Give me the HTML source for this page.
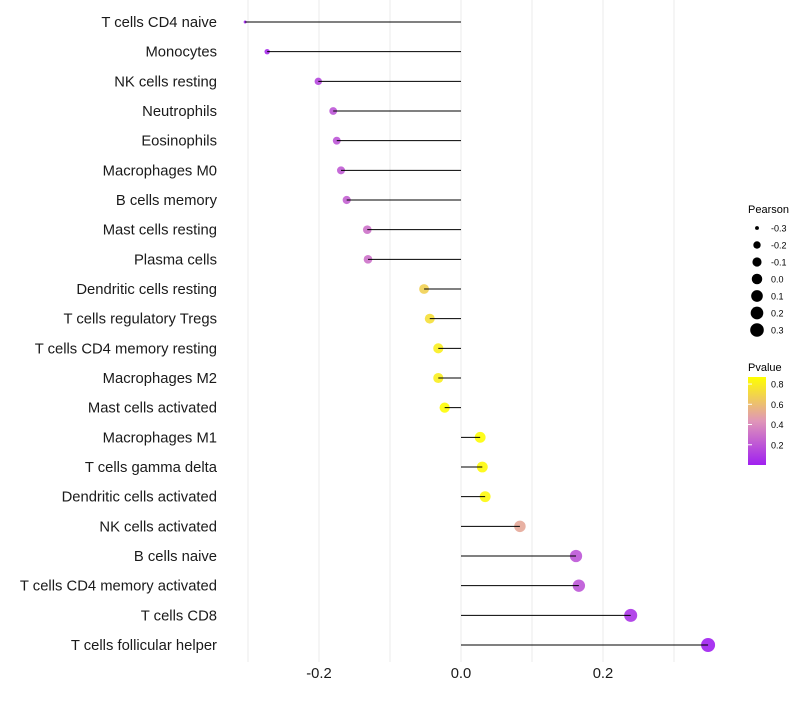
<!DOCTYPE html>
<html><head><meta charset="utf-8"><style>
body{margin:0;background:#fff;}
svg text{font-family:"Liberation Sans",sans-serif;}
</style></head><body>
<svg id="chart" width="800" height="700" viewBox="0 0 800 700">
<defs>
<linearGradient id="pg" x1="0" y1="1" x2="0" y2="0">
<stop offset="0" stop-color="#a020f0"/><stop offset="0.5" stop-color="#e096b8"/><stop offset="1" stop-color="#ffff00"/>
</linearGradient>
</defs>
<g id="grid"></g>
<g id="marks"></g>
<g id="ylab"></g>
<g id="xlab"></g>
<g id="lp">
<text x="748" y="213" font-size="11">Pearson</text>
</g>
<g>
<text x="748" y="371" font-size="11">Pvalue</text>
<rect x="748" y="377" width="18" height="88" fill="url(#pg)"/>
<g id="pvt"></g>
</g>
</svg>
<script>
const categories=["T cells CD4 naive","Monocytes","NK cells resting","Neutrophils","Eosinophils","Macrophages M0","B cells memory","Mast cells resting","Plasma cells","Dendritic cells resting","T cells regulatory  Tregs ","T cells CD4 memory resting","Macrophages M2","Mast cells activated","Macrophages M1","T cells gamma delta","Dendritic cells activated","NK cells activated","B cells naive","T cells CD4 memory activated","T cells CD8","T cells follicular helper"];
const pearson=[-0.304,-0.273,-0.201,-0.180,-0.175,-0.169,-0.161,-0.132,-0.131,-0.052,-0.044,-0.032,-0.032,-0.023,0.027,0.030,0.034,0.083,0.162,0.166,0.239,0.348];
const pvalue=[0.02,0.05,0.15,0.2,0.2,0.22,0.24,0.3,0.3,0.66,0.72,0.78,0.78,0.84,0.84,0.83,0.82,0.5,0.2,0.2,0.08,0.01];
const xTicks=[-0.2,0,0.2];
const xTickLabels=["-0.2","0.0","0.2"];
const sizeLegend=[-0.3,-0.2,-0.1,0,0.1,0.2,0.3];
const pTicks=[0.2,0.4,0.6,0.8];
const NS="http://www.w3.org/2000/svg";
const xs=v=>461+v*710;
const ys=i=>22+i*(623/21);
const rs=v=>1.5+5.5*Math.sqrt(Math.max(0,(v+0.304)/0.652));
function lerp(a,b,t){return a.map((x,i)=>Math.round(x+(b[i]-x)*t));}
function col(p){const t=Math.max(0,Math.min(1,(p-0.01)/(0.85-0.01)));
 const A=[160,32,240],M=[224,150,184],B=[255,255,0];
 const c=t<0.5?lerp(A,M,t*2):lerp(M,B,(t-0.5)*2);return `rgb(${c})`;}
function mk(tag,attrs,parent){const e=document.createElementNS(NS,tag);for(const k in attrs)e.setAttribute(k,attrs[k]);parent.appendChild(e);return e;}
const grid=document.getElementById('grid'),marks=document.getElementById('marks'),yl=document.getElementById('ylab'),xl=document.getElementById('xlab');
for(let v=-0.3;v<=0.31;v+=0.1){const g=mk('line',{x1:xs(v),x2:xs(v),y1:0,y2:662,stroke:'#ebebeb','stroke-width':1},grid);

}
xTicks.forEach((v,i)=>{const t=mk('text',{x:xs(v),y:678,'font-size':14.8,'text-anchor':'middle',fill:'#1a1a1a'},xl);t.textContent=xTickLabels[i];

});
categories.forEach((c,i)=>{const y=ys(i);
 const d=mk('circle',{cx:xs(pearson[i]),cy:y,r:rs(pearson[i]),fill:col(pvalue[i]),'fill-opacity':0.9},marks);
 
 
 const l=mk('line',{x1:xs(0),x2:xs(pearson[i]),y1:y,y2:y,stroke:'#000','stroke-width':1},marks);
 
 
 const t=mk('text',{x:217,y:y+5,'font-size':14.8,'text-anchor':'end',fill:'#1a1a1a'},yl);t.textContent=c;
 
 });
const lp=document.getElementById('lp');
sizeLegend.forEach((v,i)=>{const y=228+i*17;
 const c=mk('circle',{cx:757,cy:y,r:rs(v),fill:'#000'},lp);
 
 
 const t=mk('text',{x:771,y:y+3.5,'font-size':9},lp);t.textContent=v.toFixed(1);
 
 });
const pvt=document.getElementById('pvt');
pTicks.forEach(p=>{const y=465-(p-0.0)/0.85*86;
 const l=mk('line',{x1:748,x2:752,y1:y,y2:y,stroke:'#fff'},pvt);
 
 
 const t=mk('text',{x:771,y:y+3.5,'font-size':9},pvt);t.textContent=p.toFixed(1);
 
 });
</script>
</body></html>
